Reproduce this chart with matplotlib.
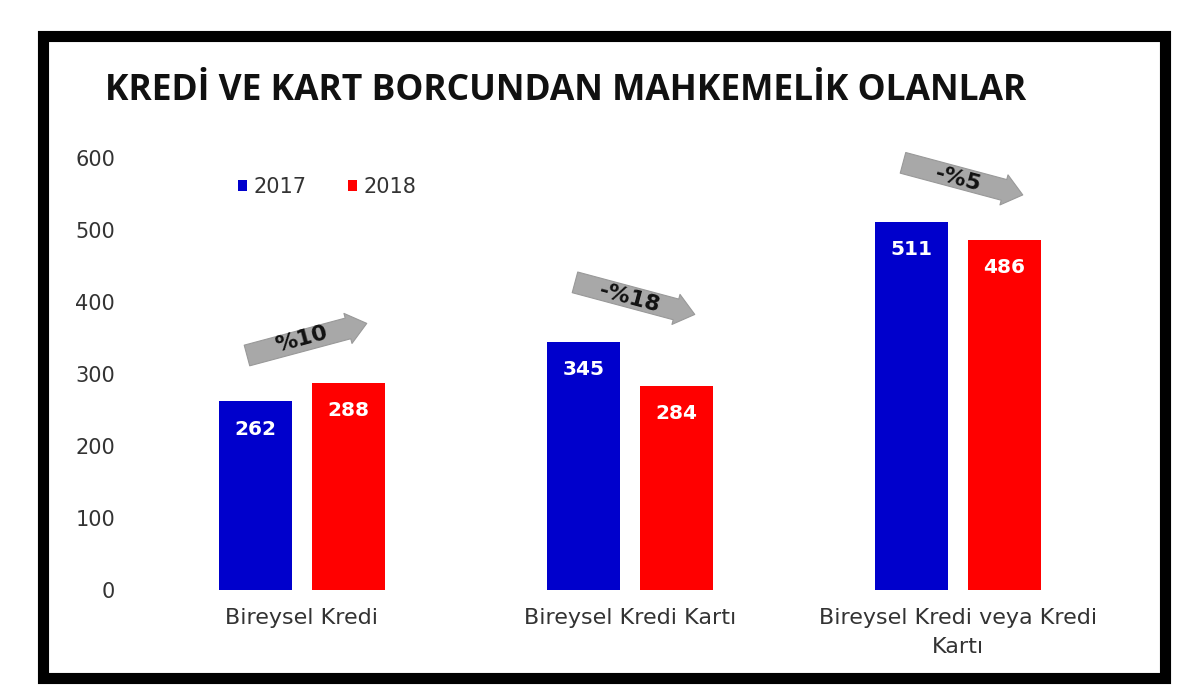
import matplotlib
matplotlib.use("Agg")
import matplotlib.pyplot as plt
import matplotlib.transforms as mtransforms
from matplotlib.patches import Rectangle
import numpy as np

categories = ["Bireysel Kredi", "Bireysel Kredi Kartı", "Bireysel Kredi veya Kredi\nKartı"]
years = ["2017", "2018"]
vals_2017 = [262, 345, 511]
vals_2018 = [288, 284, 486]
changes = ["%10", "-%18", "-%5"]

blue = "#0000CC"
red = "#FF0000"
grey = "#A8A8A8"
txt = "#333333"

plt.rcParams['font.family'] = ['DejaVu Sans']

fig = plt.figure(figsize=(12, 6.97), dpi=100)
ax = fig.add_axes([129/1200, 107/697, 1006/1200, 432/697])

x = np.arange(len(categories))
w = 0.222
off = 0.142
b1 = ax.bar(x - off, vals_2017, w, color=blue, label=years[0])
b2 = ax.bar(x + off, vals_2018, w, color=red, label=years[1])

for bars in (b1, b2):
    for b in bars:
        ax.annotate(str(int(b.get_height())), (b.get_x() + b.get_width()/2, b.get_height()),
                    xytext=(0, -20), textcoords='offset points', ha='center', va='center',
                    color='white', fontsize=14.5, fontweight='bold')

# trend arrows above each group
L = 0.62  # half length in inches
for i, (a, b, lab) in enumerate(zip(vals_2017, vals_2018, changes)):
    cy = max(a, b) + 60
    ang = np.deg2rad(15 if b > a else -15)
    dx, dy = L*np.cos(ang), L*np.sin(ang)
    t_end = ax.transData + mtransforms.ScaledTranslation(dx + 0.05, dy, fig.dpi_scale_trans)
    t_start = ax.transData + mtransforms.ScaledTranslation(-dx + 0.05, -dy, fig.dpi_scale_trans)
    ax.annotate("", xy=(x[i], cy), xycoords=t_end, xytext=(x[i], cy), textcoords=t_start,
                arrowprops=dict(arrowstyle="simple,head_length=1.0,head_width=1.6,tail_width=1.1",
                                mutation_scale=14, fc=grey, ec="#999999", lw=0.8,
                                shrinkA=0, shrinkB=0))
    ax.text(x[i], cy, lab, rotation=np.rad2deg(ang), ha='center', va='center',
            fontsize=16, fontweight='bold', color='#111111', rotation_mode='anchor')

ax.set_xlim(-0.527, 2.54)
ax.set_ylim(0, 600)
ax.set_yticks(range(0, 601, 100))
ax.set_xticks(x)
ax.set_xticklabels(categories, fontsize=16, color=txt, linespacing=1.55)
ax.tick_params(axis='y', length=0, pad=10, labelsize=15, labelcolor=txt)
ax.tick_params(axis='x', length=0, pad=13)
for s in ax.spines.values():
    s.set_visible(False)

ax.legend(loc='center left', bbox_to_anchor=(0.108, 0.933), ncol=2, frameon=False,
          fontsize=15, handlelength=0.45, handleheight=0.5, handletextpad=0.3,
          columnspacing=2.0, borderpad=0, borderaxespad=0, labelcolor=txt)

fig.text(105/1200, 1 - 91/697, "KREDİ VE KART BORCUNDAN MAHKEMELİK OLANLAR",
         fontsize=25.5, fontweight='bold', family=['Open Sans', 'DejaVu Sans'],
         color='#111111', ha='left', va='center')

# black frame
fig.patches.append(Rectangle((42.5/1200, 1 - 677.5/697), 1122/1200, 642/697,
                             transform=fig.transFigure, fill=False, ec='black', lw=8))

fig.savefig("out.png", dpi=100)
